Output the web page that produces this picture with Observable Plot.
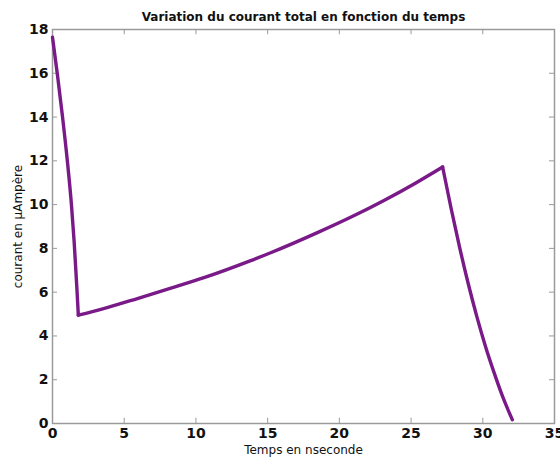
<!DOCTYPE html>
<html>
<head>
<meta charset="utf-8">
<script src="https://cdn.jsdelivr.net/npm/d3@7"></script>
<script src="https://cdn.jsdelivr.net/npm/@observablehq/plot@0.6"></script>
<style>
  html, body { margin: 0; padding: 0; background: #fff; }
  #chart { width: 560px; height: 462px; }
</style>
</head>
<body>
<div id="chart"></div>
<script>
// Segment 1: initial decay
const decayTime    = [0.00, 0.35, 0.70, 1.05, 1.32, 1.51, 1.69, 1.80];
const decayCurrent = [17.65, 15.9, 14.0, 11.9, 10.0, 8.3, 6.3, 4.95];
// Segment 2: slow rise
const riseTime    = [1.80, 3.5, 5.92, 8.2, 10.56, 13.82, 15.21, 18.47, 21.0, 23.11, 25.3, 27.2];
const riseCurrent = [4.95, 5.24, 5.71, 6.17, 6.66, 7.44, 7.80, 8.72, 9.49, 10.19, 10.98, 11.72];
// Segment 3: final fall
const fallTime    = [27.2, 27.8, 28.4, 29.0, 29.6, 30.2, 30.8, 31.4, 32.06];
const fallCurrent = [11.72, 9.8, 8.0, 6.35, 4.85, 3.5, 2.3, 1.2, 0.17];

const xTicks = [0, 5, 10, 15, 20, 25, 30, 35];
const yTicks = [0, 2, 4, 6, 8, 10, 12, 14, 16, 18];

const titleText = "Variation du courant total en fonction du temps";
const xLabel = "Temps en nseconde";
const yLabel = "courant en \u00b5Amp\u00e8re";

const data = [
  ...decayTime.map((t, i) => ({t, c: decayCurrent[i], seg: "decay"})),
  ...riseTime.map((t, i) => ({t, c: riseCurrent[i], seg: "rise"})),
  ...fallTime.map((t, i) => ({t, c: fallCurrent[i], seg: "fall"}))
];

const gray = "#9a9a9a";
const font = "DejaVu Sans, sans-serif";
const xMin = 0, xMax = 35, yMin = 0, yMax = 18;
const tickLenX = 0.24; // in y units (~5px)
const tickLenY = 0.35; // in x units (~5px)

const chart = Plot.plot({
  width: 560,
  height: 462,
  marginLeft: 52,
  marginRight: 6,
  marginTop: 29,
  marginBottom: 39,
  style: {fontFamily: font, background: "#fff", overflow: "visible"},
  x: {domain: [xMin, xMax], label: null},
  y: {domain: [yMin, yMax], label: null},
  marks: [
    Plot.frame({stroke: gray, strokeWidth: 1.5}),
    // inward ticks on all four sides
    Plot.ruleX(xTicks, {x: d => d, y1: yMin, y2: yMin + tickLenX, stroke: gray}),
    Plot.ruleX(xTicks, {x: d => d, y1: yMax, y2: yMax - tickLenX, stroke: gray}),
    Plot.ruleY(yTicks, {y: d => d, x1: xMin, x2: xMin + tickLenY, stroke: gray}),
    Plot.ruleY(yTicks, {y: d => d, x1: xMax, x2: xMax - tickLenY, stroke: gray}),
    // tick labels
    Plot.axisX(xTicks, {anchor: "bottom", tickSize: 0, tickPadding: 5, fontSize: 14, fontWeight: "bold", fill: "#111", label: null}),
    Plot.axisY(yTicks, {anchor: "left", tickSize: 0, tickPadding: 4, fontSize: 14, fontWeight: "bold", fill: "#111", label: null}),
    Plot.line(data, {x: "t", y: "c", z: "seg", curve: "monotone-x", stroke: "#7a1a88", strokeWidth: 3.4, strokeLinejoin: "round", strokeLinecap: "round"}),
    Plot.text([titleText], {frameAnchor: "top", dy: -17, text: d => d, fontSize: 12, fontWeight: "bold", fill: "#111"}),
    Plot.text([xLabel], {frameAnchor: "bottom", dy: 30, text: d => d, fontSize: 12, fill: "#111"}),
    Plot.text([yLabel], {frameAnchor: "left", dx: -34, rotate: -90, textAnchor: "middle", text: d => d, fontSize: 12, fill: "#111"})
  ]
});
document.getElementById("chart").appendChild(chart);
</script>
</body>
</html>
